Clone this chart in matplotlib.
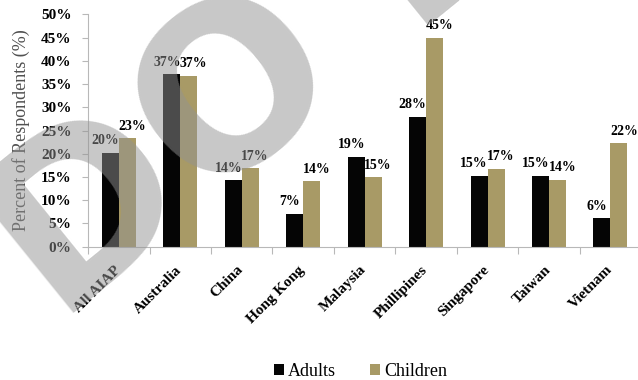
import numpy as np
import matplotlib
matplotlib.use("Agg")
import matplotlib.pyplot as plt
from matplotlib.transforms import ScaledTranslation

# data
countries = ["All AIAP", "Australia", "China", "Hong Kong", "Malaysia",
             "Phillipines", "Singapore", "Taiwan", "Vietnam"]
adults = [20.2, 37.1, 14.3, 7.1, 19.3, 28.0, 15.2, 15.3, 6.1]
children = [23.3, 36.8, 16.9, 14.1, 14.9, 45.0, 16.8, 14.4, 22.3]
adult_labels = ["20%", "37%", "14%", "7%", "19%", "28%", "15%", "15%", "6%"]
child_labels = ["23%", "37%", "17%", "14%", "15%", "45%", "17%", "14%", "22%"]
yticks = [0, 5, 10, 15, 20, 25, 30, 35, 40, 45, 50]

SERIF = ["Liberation Serif", "DejaVu Serif"]
BLACK = "#050505"
KHAKI = "#a89a66"
AXIS_GRAY = "#b8b8b8"

plt.rcParams["font.family"] = SERIF

fig = plt.figure(figsize=(6.38, 3.80), dpi=100)
ax = fig.add_axes([0.138, 0.351, 0.867, 0.611])

x = np.arange(len(countries))
w = 0.276
b1 = ax.bar(x - w / 2, adults, w, color=BLACK, label="Adults")
b2 = ax.bar(x + w / 2, children, w, color=KHAKI, label="Children")

# labels nudged apart a little so neighbours don't collide
for bars, labels, dx in ((b1, adult_labels, -3.5), (b2, child_labels, 3.5)):
    for bar, lab in zip(bars, labels):
        ax.annotate(lab, (bar.get_x() + bar.get_width() / 2, bar.get_height()),
                    xytext=(dx, 4), textcoords="offset points",
                    ha="center", va="bottom", fontsize=10, fontweight="bold")

ax.set_xlim(-0.5, len(countries) - 0.5)
ax.set_ylim(0, 50)
ax.set_yticks(yticks)
ax.set_yticklabels([f"{t}%" for t in yticks], fontsize=11, fontweight="bold")

# group separators as ticks, names at the centres
ax.set_xticks(np.arange(len(countries) + 1) - 0.5)
ax.set_xticklabels([])
ax.set_xticks(x, minor=True)
ax.set_xticklabels(countries, minor=True, rotation=45, ha="right",
                   rotation_mode="anchor", fontsize=11, fontweight="bold")
ax.tick_params(axis="x", which="minor", length=0, pad=12)
ax.tick_params(axis="x", which="major", length=5, color=AXIS_GRAY)
ax.tick_params(axis="y", length=4, color=AXIS_GRAY, pad=8)
shift = ScaledTranslation(-5 / 100, 0, fig.dpi_scale_trans)
for lab in ax.get_xticklabels(minor=True):
    lab.set_transform(lab.get_transform() + shift)

for s in ("top", "right"):
    ax.spines[s].set_visible(False)
for s in ("left", "bottom"):
    ax.spines[s].set_color(AXIS_GRAY)

ax.set_ylabel("Percent of Respondents (%)", fontsize=13, color="#505050",
              labelpad=8)

fig.legend(handles=[b1, b2], labels=["Adults", "Children"], loc="center",
           bbox_to_anchor=(0.565, 0.022), ncol=2, frameon=False, fontsize=13,
           handlelength=0.55, handleheight=0.55, handletextpad=0.25,
           columnspacing=1.85)

# grey watermark over the chart
fig.text(0.091, 0.142, "DO NOT COPY", fontsize=162, fontweight="bold",
         family="DejaVu Sans", color="#929292", alpha=0.5, rotation=39,
         rotation_mode="anchor", ha="left", va="baseline", zorder=10)

fig.savefig("out.png", dpi=100)
